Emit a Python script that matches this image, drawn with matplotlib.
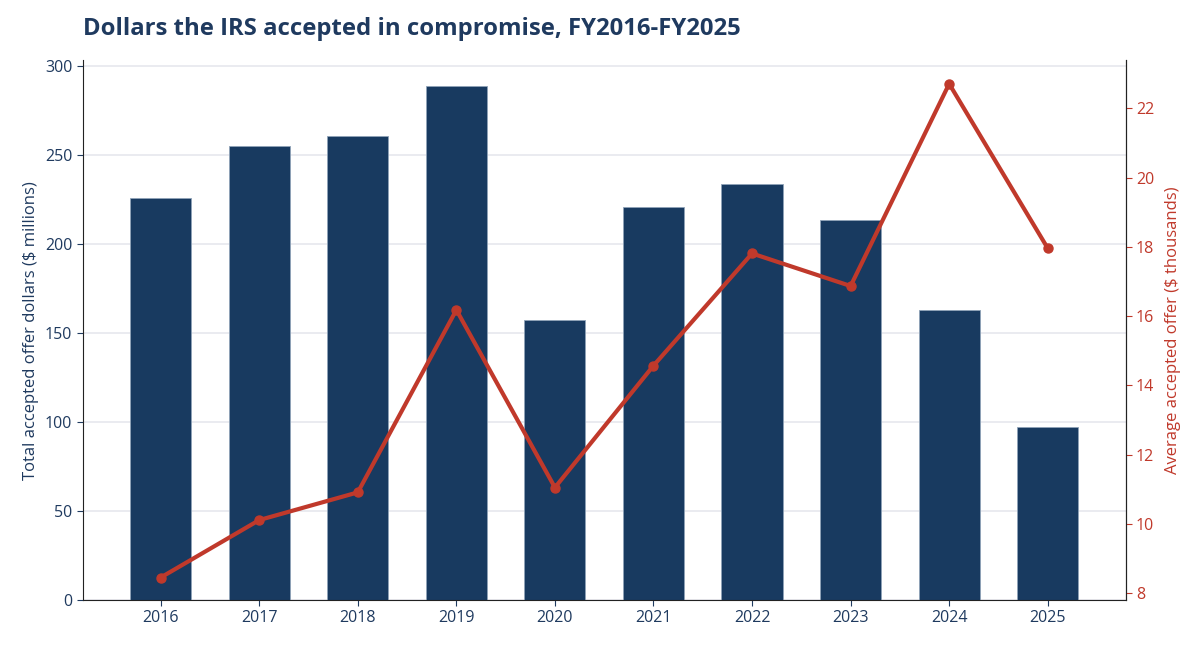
import numpy as np
import matplotlib.pyplot as plt

# data
years = [2016, 2017, 2018, 2019, 2020, 2021, 2022, 2023, 2024, 2025]
total_dollars = [225.7, 255.3, 260.5, 289.0, 157.1, 220.6, 233.5, 213.7, 162.7, 97.4]  # $ millions
avg_offer = [8.45, 10.11, 10.91, 16.18, 11.05, 14.57, 17.81, 16.87, 22.71, 17.96]  # $ thousands

navy = '#183a60'
red = '#c0392b'
text_col = '#1f3a5f'

plt.rcParams['font.family'] = ['Open Sans', 'DejaVu Sans']

fig = plt.figure(figsize=(12, 6.48), dpi=100)
ax = fig.add_axes([0.069, 0.074, 0.869, 0.833])

x = np.arange(len(years))
ax.bar(x, total_dollars, width=0.62, color=navy, edgecolor='#8fa3b8', linewidth=0.6, zorder=2)
ax.set_xlim(-0.79, 9.79)
ax.set_ylim(0, 303.2)
ax.set_yticks([0, 50, 100, 150, 200, 250, 300])
ax.set_xticks(x)
ax.set_xticklabels([str(y) for y in years])
ax.grid(axis='y', color='#e6e8ee', linewidth=1.2, zorder=0)
ax.set_axisbelow(True)
ax.set_ylabel('Total accepted offer dollars ($ millions)', color=text_col, fontsize=12)
ax.tick_params(colors=text_col, labelsize=11.5, length=4)
for s in ['left', 'bottom', 'right']:
    ax.spines[s].set_color('#222222')
ax.spines['top'].set_visible(False)

ax2 = ax.twinx()
ax2.plot(x, avg_offer, color=red, linewidth=3, marker='o', markersize=6.5, zorder=3)
ax2.set_ylim(7.8, 23.39)
ax2.set_yticks([8, 10, 12, 14, 16, 18, 20, 22])
ax2.set_ylabel('Average accepted offer ($ thousands)', color=red, fontsize=12, labelpad=8)
ax2.tick_params(axis='y', colors=red, labelsize=11.5, length=4)
ax2.spines['right'].set_color('#222222')
ax2.spines['top'].set_visible(False)
ax2.spines['left'].set_visible(False)
ax2.spines['bottom'].set_visible(False)

fig.text(0.069, 0.955, 'Dollars the IRS accepted in compromise, FY2016-FY2025',
         fontsize=17.2, fontweight='bold', color=text_col, va='center', ha='left')

fig.savefig('out.png', dpi=100)
